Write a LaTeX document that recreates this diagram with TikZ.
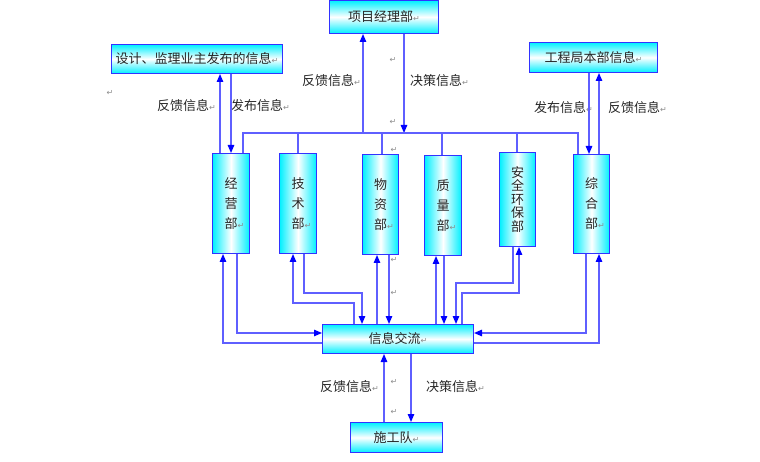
\documentclass[tikz,border=0pt]{standalone}
\usepackage{fontspec}
\newfontfamily\cjk{Noto Sans CJK SC}
\newfontfamily\dvs{DejaVu Sans}
\usetikzlibrary{arrows.meta}
\definecolor{lnc}{RGB}{95,95,255}
\definecolor{bdc}{RGB}{50,50,255}
\definecolor{cy}{RGB}{0,240,255}
\newcommand\retmark{\textcolor{black!45}{\dvs\fontsize{8}{8}\selectfont ↵}}
\begin{document}
\begin{tikzpicture}[x=1pt,y=-1pt,
 hbox/.style={draw=bdc,line width=1pt,top color=cy,bottom color=cy,middle color=white,inner sep=0,anchor=north west,font=\cjk\fontsize{13}{13}\selectfont,text=black!85},
 vbox/.style={draw=bdc,line width=1pt,left color=cy,right color=cy,middle color=white,inner sep=0,anchor=north west,font=\cjk\fontsize{13}{20}\selectfont,align=center,text=black!85},
 ln/.style={draw=lnc,line width=1.3pt},
 ar/.style={ln,-{Triangle[length=8pt,width=6.5pt,color=blue]}},
 lbl/.style={font=\cjk\fontsize{13}{13}\selectfont,text=black!85,inner sep=0},
 rm/.style={inner sep=0}
]
\path[use as bounding box] (0,0) rectangle (760,462);

% top boxes
\node[hbox,minimum width=109pt,minimum height=33pt] (PM) at (329,0) {\raisebox{-2pt}{项目经理部\retmark}};
\node[hbox,minimum width=171pt,minimum height=29pt] (DS) at (111,44) {设计、监理业主发布的信息\retmark};
\node[hbox,minimum width=128pt,minimum height=30pt] (GC) at (529,42) {工程局本部信息\retmark};

% departments
\node[vbox,minimum width=37pt,minimum height=100pt] (A) at (212,153) {经\\营\\部\rlap{\retmark}};
\node[vbox,minimum width=37pt,minimum height=100pt] (B) at (279,153) {技\\术\\部\rlap{\retmark}};
\node[vbox,minimum width=36pt,minimum height=100pt] (C) at (362,154) {物\\资\\部\rlap{\retmark}};
\node[vbox,minimum width=37pt,minimum height=100pt] (D) at (424,155) {质\\量\\部\rlap{\retmark}};
\node[vbox,minimum width=36pt,minimum height=94pt,font=\cjk\fontsize{13}{13.5}\selectfont] (E) at (499,152) {\raisebox{-6pt}{\parbox{13pt}{\centering 安\\全\\环\\保\\部}}};
\node[vbox,minimum width=36pt,minimum height=99pt] (F) at (573,154) {综\\合\\部\rlap{\retmark}};

% central and bottom
\node[hbox,minimum width=151pt,minimum height=29pt] (X) at (322,324) {信息交流\retmark};
\node[hbox,minimum width=92pt,minimum height=30pt] (S) at (350,422) {施工队\retmark};

% labels
\node[lbl] (l1) at (183,106) {反馈信息\rlap{\retmark}};
\node[lbl] (l2) at (257,106) {发布信息\rlap{\retmark}};
\node[lbl] (l3) at (328,81) {反馈信息\rlap{\retmark}};
\node[lbl] (l4) at (436,81) {决策信息\rlap{\retmark}};
\node[lbl] (l5) at (560,108) {发布信息\rlap{\retmark}};
\node[lbl] (l6) at (634,108) {反馈信息\rlap{\retmark}};
\node[lbl] (l7) at (346,387) {反馈信息\rlap{\retmark}};
\node[lbl] (l8) at (452,387) {决策信息\rlap{\retmark}};

% stray return marks
\node[rm] (r1) at (110,93) {\retmark};
\node[rm] (r2) at (393,60) {\retmark};
\node[rm] (r3) at (393,122) {\retmark};
\node[rm] (r4) at (394,150) {\retmark};
\node[rm] (r5) at (394,260) {\retmark};
\node[rm] (r6) at (394,293) {\retmark};
\node[rm] (r7) at (394,382) {\retmark};
\node[rm] (r8) at (394,412) {\retmark};

% top connections
\coordinate (busL) at (243,133);
\coordinate (busR) at (578,133);
\draw[ar] (220,0 |- A.north) -- (220,0 |- DS.south);
\draw[ar] (231,0 |- DS.south) -- (231,0 |- A.north);
\draw[ar] (363,0 |- busL) -- (363,0 |- PM.south);
\draw[ar] (404,0 |- PM.south) -- (404,0 |- busL);
\draw[ar] (589,0 |- GC.south) -- (589,0 |- F.north);
\draw[ar] (599,0 |- F.north) -- (599,0 |- GC.south);
\draw[ln] (A.north -| busL) -- (busL) -- (busR) -- (F.north -| busR);
\draw[ln] (298,0 |- busL) -- (298,0 |- B.north);
\draw[ln] (382,0 |- busL) -- (382,0 |- C.north);
\draw[ln] (442,0 |- busL) -- (442,0 |- D.north);
\draw[ln] (517,0 |- busL) -- (517,0 |- E.north);

% lower connections
\draw[ar] (X.west |- 0,343) -- (223,343) -- (223,0 |- A.south);
\draw[ar] (237,0 |- A.south) -- (237,333) -- (X.west |- 0,333);
\draw[ar] (354,0 |- X.north) -- (354,303) -- (293,303) -- (293,0 |- B.south);
\draw[ar] (304,0 |- B.south) -- (304,293) -- (362,293) -- (362,0 |- X.north);
\draw[ar] (377,0 |- X.north) -- (377,0 |- C.south);
\draw[ar] (389,0 |- C.south) -- (389,0 |- X.north);
\draw[ar] (436,0 |- X.north) -- (436,0 |- D.south);
\draw[ar] (444,0 |- D.south) -- (444,0 |- X.north);
\draw[ar] (513,0 |- E.south) -- (513,283) -- (456,283) -- (456,0 |- X.north);
\draw[ar] (462,0 |- X.north) -- (462,293) -- (519,293) -- (519,0 |- E.south);
\draw[ar] (586,0 |- F.south) -- (586,333) -- (X.east |- 0,333);
\draw[ar] (X.east |- 0,343) -- (599,343) -- (599,0 |- F.south);
\draw[ar] (384,0 |- S.north) -- (384,0 |- X.south);
\draw[ar] (411,0 |- X.south) -- (411,0 |- S.north);
\end{tikzpicture}
\end{document}
